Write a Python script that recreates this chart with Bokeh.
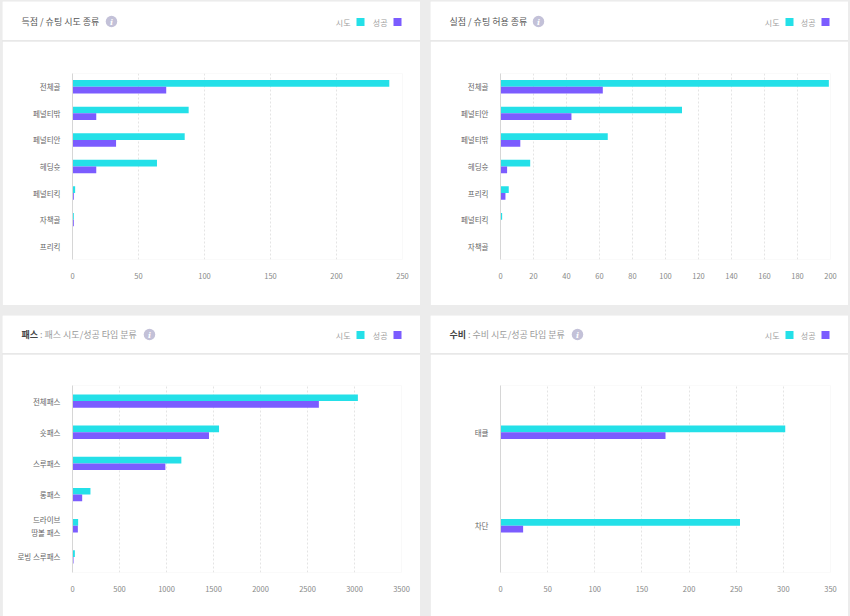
from bokeh.plotting import figure
from bokeh.models import ColumnDataSource, FactorRange, Range1d, FixedTicker, Spacer
from bokeh.layouts import column, row
from bokeh.transform import dodge
from bokeh.core.properties import value
from bokeh.embed import file_html
from bokeh.resources import INLINE

FONT = "Noto Sans CJK KR"

# ---------------- data ----------------
series_names = ["시도", "성공"]
series_colors = ["#24e0e8", "#7b5cff"]

goal_title = ("", "득점 / 슈팅 시도 종류")
goal_cats = ["전체골", "페널티밖", "페널티안", "헤딩슛", "페널티킥", "자책골", "프리킥"]
goal_att = [240, 88, 85, 64, 2, 1, 0]
goal_suc = [71, 18, 33, 18, 1, 1, 0]
goal_ticks = [0, 50, 100, 150, 200, 250]

conc_title = ("", "실점 / 슈팅 허용 종류")
conc_cats = ["전체골", "페널티안", "페널티밖", "헤딩슛", "프리킥", "페널티킥", "자책골"]
conc_att = [199, 110, 65, 18, 5, 1, 0]
conc_suc = [62, 43, 12, 4, 3, 0, 0]
conc_ticks = [0, 20, 40, 60, 80, 100, 120, 140, 160, 180, 200]

pass_title = ("패스", ": 패스 시도/성공 타입 분류")
pass_cats = ["전체패스", "숏패스", "스루패스", "롱패스", "드라이브\n땅볼 패스", "로빙 스루패스"]
pass_att = [3036, 1559, 1158, 191, 60, 25]
pass_suc = [2621, 1452, 988, 103, 57, 11]
pass_ticks = [0, 500, 1000, 1500, 2000, 2500, 3000, 3500]

def_title = ("수비", ": 수비 시도/성공 타입 분류")
def_cats = ["태클", "차단"]
def_att = [302, 254]
def_suc = [175, 24]
def_ticks = [0, 50, 100, 150, 200, 250, 300, 350]

BAR_PX = 6.7


def header(width, height, title, title_x, icon_x, cy, sq_right, step):
    h = figure(width=width, height=height, x_range=Range1d(0, width), y_range=Range1d(0, height),
               toolbar_location=None, output_backend="svg", min_border=0, frame_align=False,
               x_axis_type=None, y_axis_type=None)
    h.grid.visible = False
    h.outline_line_color = None
    h.background_fill_color = "white"
    h.border_fill_color = "white"
    bold, rest = title
    if bold:
        h.text(x=[title_x], y=[cy], text=[bold], text_font=value(FONT), text_font_size="9px",
               text_font_style="bold", text_color="#444444", text_baseline="middle")
        h.text(x=[title_x + 18.5], y=[cy], text=[rest], text_font=value(FONT), text_font_size="9px",
               text_color="#9a9a9a", text_baseline="middle")
    else:
        h.text(x=[title_x], y=[cy], text=[rest], text_font=value(FONT), text_font_size="9px",
               text_color="#555555", text_baseline="middle")
    h.scatter(x=[icon_x], y=[cy], size=11.5, marker="circle", fill_color="#c3c1d8", line_color=None)
    h.text(x=[icon_x], y=[cy - 0.5], text=["i"], text_font=value("DejaVu Serif"), text_font_size="8px",
           text_font_style="bold italic", text_color="white", text_align="center", text_baseline="middle")
    sq_w = 8
    n = len(series_names)
    for i, (name, col) in enumerate(zip(series_names, series_colors)):
        right = sq_right - (n - 1 - i) * step
        h.rect(x=[right - sq_w / 2], y=[cy - 0.5], width=sq_w, height=sq_w, fill_color=col, line_color=None)
        h.text(x=[right - sq_w - 6], y=[cy - 0.5], text=[name], text_font=value(FONT), text_font_size="8px",
               text_color="#a0a0a0", text_align="right", text_baseline="middle")
    return h


def chart(width, height, cats, att, suc, ticks, bl, br, bt, bb):
    p = figure(width=width, height=height, y_range=FactorRange(factors=list(reversed(cats))),
               x_range=Range1d(0, ticks[-1]), toolbar_location=None, output_backend="svg",
               frame_align=False,
               min_border_left=bl, min_border_right=br, min_border_top=bt, min_border_bottom=bb)
    p.outline_line_color = None
    p.background_fill_color = "white"
    p.border_fill_color = "white"
    frame_h = height - bt - bb
    hh = BAR_PX / (frame_h / len(cats))
    src = ColumnDataSource(dict(cat=cats, att=att, suc=suc))
    p.hbar(y=dodge("cat", hh / 2, range=p.y_range), left=0, right="att", height=hh, source=src,
           fill_color=series_colors[0], line_color=None)
    p.hbar(y=dodge("cat", -hh / 2, range=p.y_range), left=0, right="suc", height=hh, source=src,
           fill_color=series_colors[1], line_color=None)
    p.ygrid.visible = False
    p.xgrid.ticker = FixedTicker(ticks=ticks)
    p.xgrid.grid_line_color = "#e4e4e4"
    p.xgrid.grid_line_dash = "2 2"
    xa = p.xaxis[0]
    xa.ticker = FixedTicker(ticks=ticks)
    xa.axis_line_color = None
    xa.major_tick_line_color = None
    xa.minor_tick_line_color = None
    xa.major_label_text_font = FONT
    xa.major_label_text_font_size = "7.5px"
    xa.major_label_text_color = "#888888"
    xa.major_label_standoff = 7
    ya = p.yaxis[0]
    ya.axis_line_color = "#d6d6d6"
    ya.axis_line_width = 1
    ya.major_tick_line_color = None
    ya.minor_tick_line_color = None
    ya.major_label_text_font = FONT
    ya.major_label_text_font_size = "7.5px"
    ya.major_label_text_color = "#666666"
    ya.major_label_standoff = 6
    return p


PW = 418
SEP = "#e8e8e8"
BG = "#ececec"
# top-left panel
h1 = header(PW, 39, goal_title, 19, 109, 19, 399, 37)
c1 = chart(PW, 264, goal_cats, goal_att, goal_suc, goal_ticks, 70, 18, 32, 46)
# top-right panel
h2 = header(PW, 39, conc_title, 19, 108, 19, 399, 36)
c2 = chart(PW, 264, conc_cats, conc_att, conc_suc, conc_ticks, 70, 18, 32, 46)
# bottom-left panel
h3 = header(PW, 38, pass_title, 19, 147, 19, 399, 37)
c3 = chart(PW, 262, pass_cats, pass_att, pass_suc, pass_ticks, 70, 19, 31, 44)
# bottom-right panel
h4 = header(PW, 38, def_title, 19, 147, 19, 399, 36)
c4 = chart(PW, 262, def_cats, def_att, def_suc, def_ticks, 70, 18, 31, 44)


def panel(h, c):
    return column(h, c, spacing=1, styles={"background-color": SEP})


grid = column(
    row(panel(h1, c1), panel(h2, c2), spacing=10),
    row(panel(h3, c3), panel(h4, c4), spacing=10),
    spacing=10,
)

layout = column(
    Spacer(width=850, height=1),
    row(Spacer(width=2, height=10), grid, Spacer(width=2, height=10), spacing=0),
    spacing=0,
    styles={"background-color": BG},
)

open("out.html", "w").write(file_html(layout, INLINE))
